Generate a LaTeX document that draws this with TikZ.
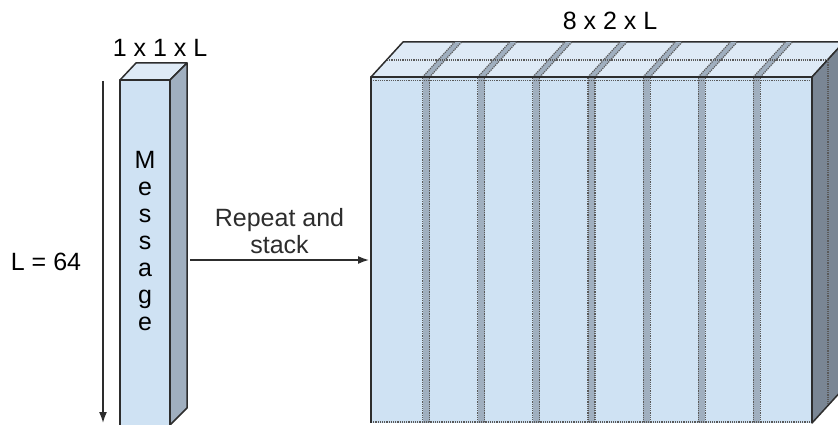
\documentclass[tikz,border=0pt]{standalone}
\usepackage{fontspec}
\setmainfont{Liberation Sans}
\usetikzlibrary{arrows.meta}
\definecolor{facefront}{RGB}{207,226,243}
\definecolor{facetop}{RGB}{222,234,246}
\definecolor{faceside}{RGB}{160,175,191}
\definecolor{facedark}{RGB}{122,134,148}
\definecolor{edgeline}{RGB}{45,45,45}
\begin{document}
\begin{tikzpicture}[x=1pt,y=-1pt,font=\fontsize{25}{27}\selectfont,
	face/.style={draw=edgeline,line width=1.5pt,line join=round},
	slabedge/.style={draw=gray!70!black,densely dotted,line width=1.2pt},
	pointer/.style={line width=1.6pt, edgeline, -{Latex[length=11pt,width=8pt]}}]
		\useasboundingbox (0,0) rectangle (838,425);
		\clip (0,0) rectangle (838,425);
		\filldraw[face,fill=facetop] (120,80) -- (136,63) -- (187,63) -- (170,80) -- cycle;
		\filldraw[face,fill=faceside] (170,80) -- (187,63) -- (187,408) -- (170,425) -- cycle;
		\filldraw[face,fill=facefront] (120,80) rectangle (170,427);
		\node[align=center] (msg) at (145,241) {M\\e\\s\\s\\a\\g\\e};
		\node (msgsize) at (160,48) {1 x 1 x L};
		\coordinate (ltop) at (103,81);
		\coordinate (lbot) at (103,423);
		\draw[pointer] (ltop) -- (lbot);
		\node (lsize) at (46,262) {L = 64};
		\filldraw[face,fill=facetop] (371,77) -- (403,42) -- (844,42) -- (812,77) -- cycle;
		\filldraw[face,fill=facedark] (812,77) -- (844,42) -- (844,388) -- (812,423) -- cycle;
		\fill[facefront] (371,77) rectangle (812,423);
		\foreach \i [evaluate=\i as \xx using 371+55.125*\i] in {1,...,7} {
			\fill[faceside] (\xx-3.5,78) rectangle (\xx+3.5,423);
			\draw[slabedge] (\xx-3.5,78) -- (\xx-3.5,423);
			\draw[slabedge] (\xx+3.5,78) -- (\xx+3.5,423);
			\fill[faceside] (\xx-3.5,77) -- (\xx+28.5,42) -- (\xx+35.5,42) -- (\xx+3.5,77) -- cycle;
			\draw[slabedge] (\xx-3.5,77) -- (\xx+28.5,42);
			\draw[slabedge] (\xx+3.5,77) -- (\xx+35.5,42);
		}
		\draw[slabedge] (387,60) -- (828,60);
		\draw[slabedge] (828,60) -- (828,405);
		\draw[slabedge] (371,80.5) -- (812,80.5);
		\draw[slabedge] (371,422) -- (812,422);
		\draw[face] (371,423) -- (371,77) -- (812,77) -- (812,423);
		\node (stacksize) at (610,21) {8 x 2 x L};
		\coordinate (repfrom) at (190,260);
		\coordinate (repto) at (369,260);
		\draw[pointer] (repfrom) -- node[above, align=center, yshift=2pt]{Repeat and\\stack} (repto);
\end{tikzpicture}
\end{document}
